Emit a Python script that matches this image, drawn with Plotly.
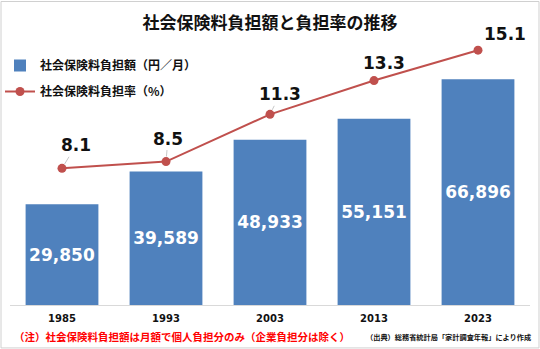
import plotly.graph_objects as go

years = ["1985", "1993", "2003", "2013", "2023"]
amount = [29850, 39589, 48933, 55151, 66896]
rate = [8.1, 8.5, 11.3, 13.3, 15.1]
amount_labels = ["29,850", "39,589", "48,933", "55,151", "66,896"]
rate_labels = ["8.1", "8.5", "11.3", "13.3", "15.1"]
# label offsets (pixels) relative to the point
label_dx = [14, 2, 10, 10, 27]
label_dy = [-23, -23, -20, -18, -16]
leader = [True, True, True, False, False]

BAR_C = "#4F81BD"
LINE_C = "#C0504D"
NUM_FONT = "DejaVu Sans, Noto Sans CJK JP, sans-serif"
JP_FONT = "Noto Sans CJK JP, sans-serif"

fig = go.Figure()
fig.add_trace(go.Bar(
    x=years, y=amount, name="社会保険料負担額（円／月）",
    marker=dict(color=BAR_C, line=dict(width=0)),
    text=amount_labels, textposition="inside", insidetextanchor="middle",
    textfont=dict(family=NUM_FONT, size=17, color="white", weight="bold"),
    textangle=0, legendgroup="a",
))
fig.add_trace(go.Scatter(
    x=years, y=rate, name="社会保険料負担率（%）", yaxis="y2",
    mode="lines+markers",
    line=dict(color=LINE_C, width=2),
    marker=dict(color=LINE_C, size=9),
    legendgroup="b",
))

anns = []
for i, (v, t, dx, dy, ld) in enumerate(zip(rate, rate_labels, label_dx, label_dy, leader)):
    if ld:
        anns.append(dict(x=i, y=v, xref="x", yref="y2", text=t, showarrow=True,
                         ax=dx, ay=dy, arrowhead=0, arrowwidth=1, arrowcolor="#c8c8c8",
                         standoff=5, font=dict(family=NUM_FONT, size=17, color="#111", weight="bold")))
    else:
        anns.append(dict(x=i, y=v, xref="x", yref="y2", text=t, showarrow=False,
                         xshift=dx, yshift=-dy,
                         font=dict(family=NUM_FONT, size=17, color="#111", weight="bold")))

anns.append(dict(xref="paper", yref="paper", x=0.004, y=-0.118, xanchor="left", yanchor="middle",
                 text="（注）社会保険料負担額は月額で個人負担分のみ（企業負担分は除く）", showarrow=False,
                 font=dict(family=JP_FONT, size=10.5, color="#FF0000", weight="bold")))
anns.append(dict(xref="paper", yref="paper", x=1.006, y=-0.118, xanchor="right", yanchor="middle",
                 text="（出典）総務省統計局「家計調査年報」により作成", showarrow=False,
                 font=dict(family=JP_FONT, size=7.2, color="#111", weight="bold")))

fig.update_layout(
    width=540, height=349,
    margin=dict(l=10, r=10, t=35, b=44, autoexpand=False),
    paper_bgcolor="white", plot_bgcolor="white",
    bargap=0.3,
    title=dict(text="社会保険料負担額と負担率の推移", x=0.5, xref="container", y=1 - 23 / 349,
               yref="container", xanchor="center", yanchor="middle",
               font=dict(family=JP_FONT, size=17, color="#111", weight="bold")),
    xaxis=dict(type="category", range=[-0.5, len(years) - 0.5], showgrid=False, showline=True,
               linecolor="#d9d9d9", linewidth=1,
               ticks="outside", ticklen=4, tickcolor="rgba(0,0,0,0)",
               tickfont=dict(family=NUM_FONT, size=10, color="#111", weight="bold")),
    yaxis=dict(range=[0, 80000], visible=False, showgrid=False),
    yaxis2=dict(range=[0, 16], overlaying="y", side="right", visible=False, showgrid=False),
    showlegend=True,
    legend=dict(xref="container", yref="container", x=0.0, y=1 - 51 / 349,
                xanchor="left", yanchor="top", bgcolor="rgba(0,0,0,0)",
                font=dict(family=JP_FONT, size=12, color="#111", weight="bold"),
                tracegroupgap=7, itemwidth=30, traceorder="grouped"),
    annotations=anns,
    shapes=[dict(type="rect", xref="paper", yref="paper",
                 x0=-0.0173, x1=1.0173, y0=-0.159, y1=1.124,
                 line=dict(color="#d0d0d0", width=1), fillcolor="rgba(0,0,0,0)", layer="above")],
)

fig.write_html("out.html")
